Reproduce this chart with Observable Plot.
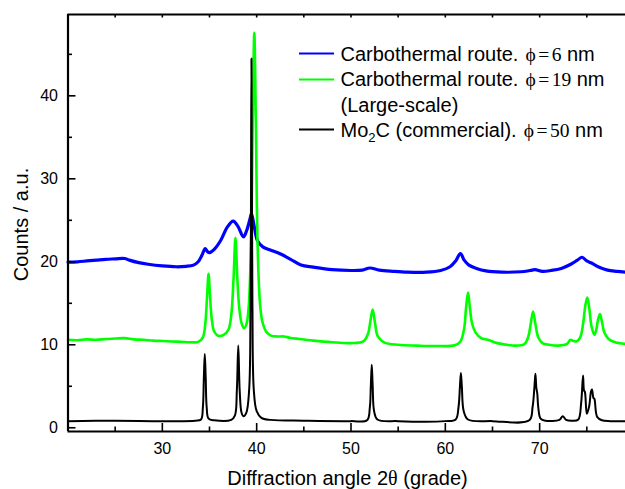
<!DOCTYPE html>
<html><head><meta charset="utf-8">
<script src="https://cdn.jsdelivr.net/npm/d3@7"></script>
<script src="https://cdn.jsdelivr.net/npm/@observablehq/plot@0.6"></script>
<style>body{margin:0;background:#fff;} svg{display:block}</style>
</head><body><div id="chart"></div>
<script>
const xDomain = [20, 79.1];
const yDomain = [-0.45, 49.8];
const xMajorTicks = [30, 40, 50, 60, 70];
const xMinorTicks = [25, 35, 45, 55, 65, 75];
const yMajorTicks = [0, 10, 20, 30, 40];
const yMinorTicks = [5, 15, 25, 35, 45];
const xLabel = ["Diffraction angle 2", "θ", " (grade)"];
const yLabel = "Counts / a.u.";

// Carbothermal route, phi = 6 nm
const blue6nm = [[20,19.95],[21,20.0],[22,20.1],[23,20.2],[24,20.3],[25,20.35],[26,20.4],[26.5,20.2],[27.5,19.9],[28.5,19.7],[30,19.5],[31.5,19.4],[32.5,19.45],[33.3,19.6],[33.8,20.0],[34.2,20.8],[34.55,21.6],[34.8,21.2],[35.0,21.1],[35.5,21.5],[36.2,22.6],[36.9,24.2],[37.5,24.9],[38.0,24.3],[38.6,23.0],[38.95,23.8],[39.3,25.2],[39.45,25.8],[39.75,24.2],[40.1,22.5],[40.65,21.8],[41.5,21.4],[42.6,20.9],[43.6,20.3],[44.7,19.6],[46,19.35],[48,19.05],[50,18.95],[51.2,19.0],[52.0,19.25],[53,19.0],[54.5,18.85],[56,18.75],[58,18.75],[59.5,18.95],[60.5,19.4],[61.1,20.1],[61.6,21.0],[62.0,20.2],[62.5,19.6],[63.3,19.2],[64.3,18.9],[66,18.75],[68,18.8],[69.0,18.95],[69.5,19.05],[70.3,18.85],[71.2,18.95],[72.3,19.2],[73.3,19.7],[74.0,20.2],[74.5,20.55],[75.0,20.1],[75.5,19.85],[76.2,19.4],[77.2,19.0],[78.2,18.85],[79.1,18.75]];

// Carbothermal route, phi = 19 nm (large-scale)
const green19nm = [[20,10.6],[21,10.55],[22,10.65],[23,10.6],[24,10.7],[25,10.75],[26,10.8],[27,10.65],[28,10.6],[29,10.5],[30,10.45],[31,10.4],[32,10.35],[33,10.3],[33.8,10.35],[34.3,10.9],[34.55,12.5],[34.75,16],[34.9,18.55],[35.05,16],[35.25,13],[35.5,11.6],[35.9,11.1],[36.5,11.2],[37.0,11.8],[37.3,13.5],[37.55,18],[37.75,22.9],[37.95,18],[38.15,14.5],[38.4,12.6],[38.65,12.0],[38.9,12.4],[39.15,14.5],[39.4,22],[39.6,38],[39.75,47.6],[39.9,38],[40.1,22],[40.35,15],[40.6,12.8],[41.0,11.6],[41.5,11.1],[42.2,11.0],[42.9,11.0],[43.5,10.85],[44.5,10.7],[46,10.5],[48,10.3],[50,10.2],[51.3,10.4],[51.8,11.3],[52.05,12.8],[52.3,14.25],[52.55,12.6],[52.85,11.0],[53.5,10.3],[55,10.0],[57,9.9],[59,9.85],[61,9.95],[61.6,10.4],[62.0,12],[62.2,14.5],[62.4,16.3],[62.6,14.5],[62.85,12.5],[63.2,11.5],[63.8,10.8],[64.5,10.6],[65.5,10.2],[66.5,10.0],[67.5,9.9],[68.4,10.1],[68.8,11],[69.05,12.5],[69.3,14.0],[69.55,12.5],[69.85,10.9],[70.3,10.2],[71,10.0],[72,9.9],[72.9,10.1],[73.25,10.6],[73.5,10.5],[73.9,10.4],[74.3,10.9],[74.6,12.5],[74.85,14.8],[75.05,15.7],[75.25,14.5],[75.5,12.2],[75.8,11.2],[76.0,11.8],[76.2,13.1],[76.4,13.7],[76.6,12.8],[76.85,11.5],[77.3,10.7],[78,10.3],[79.1,10.1]];

// Mo2C (commercial), phi = 50 nm
const black50nm = [[20,0.8],[25,0.85],[30,0.8],[33.5,0.85],[34.1,1.0],[34.3,2.5],[34.4,6.0],[34.5,8.9],[34.6,6.0],[34.7,2.5],[34.9,1.1],[35.5,0.9],[37.3,0.95],[37.7,1.5],[37.9,4.5],[38.05,9.9],[38.2,4.5],[38.4,1.8],[38.6,1.4],[38.9,1.8],[39.2,4.5],[39.35,15],[39.45,44.5],[39.55,15],[39.7,4.5],[40.0,2.0],[40.5,1.2],[41.5,0.95],[45,0.85],[50,0.8],[51.7,0.9],[52.0,2.5],[52.1,5],[52.2,7.6],[52.3,5],[52.45,2],[52.8,1.0],[55,0.8],[60,0.8],[61.1,1.0],[61.4,2.5],[61.55,5],[61.65,6.6],[61.75,5],[61.95,2],[62.4,1.0],[65,0.8],[68.9,0.9],[69.25,2.5],[69.45,5],[69.55,6.5],[69.65,4.8],[69.75,4.1],[69.85,2.5],[70.1,1.1],[70.6,0.85],[72.1,0.95],[72.45,1.4],[72.8,0.95],[73.5,0.85],[74.1,1.0],[74.4,3],[74.6,6.3],[74.7,4.5],[74.8,4.3],[75.0,1.7],[75.25,2.6],[75.45,4.4],[75.55,4.6],[75.7,3.6],[75.8,3.5],[76.1,1.3],[76.6,0.9],[77.5,0.8],[79.1,0.8]];

const legendColors = ["#0000ff", "#00ff00", "#000000"];
const legendSizes = ["6", "19", "50"];

const sans = "Liberation Sans, Arial, sans-serif";
const serif = "Liberation Serif, Times New Roman, serif";

const W = 625, H = 489, ML = 67.5, MR = 0, MT = 14, MB = 58;
const frameW = W - ML - MR, frameH = H - MT - MB;

const plot = Plot.plot({
  width: W,
  height: H,
  marginLeft: ML,
  marginRight: MR,
  marginTop: MT,
  marginBottom: MB,
  style: {fontFamily: sans, fontSize: "16px", color: "#000", background: "#fff"},
  x: {domain: xDomain},
  y: {domain: yDomain},
  marks: [
    Plot.line(blue6nm, {x: d => d[0], y: d => d[1], stroke: legendColors[0], strokeWidth: 3.2, curve: "catmull-rom"}),
    Plot.line(green19nm, {x: d => d[0], y: d => d[1], stroke: legendColors[1], strokeWidth: 2.6, curve: "catmull-rom"}),
    Plot.line(black50nm, {x: d => d[0], y: d => d[1], stroke: legendColors[2], strokeWidth: 2, curve: "catmull-rom"}),
    Plot.axisX(xMajorTicks, {anchor: "bottom", tickSize: 0, tickPadding: 11, label: null, fontSize: 16}),
    Plot.axisY(yMajorTicks, {anchor: "left", tickSize: 0, tickPadding: 10, label: null, fontSize: 16}),
    // inward ticks
    Plot.ruleX(xMajorTicks, {stroke: "#000", strokeWidth: 1.6, insetTop: frameH - 8}),
    Plot.ruleX(xMinorTicks, {stroke: "#000", strokeWidth: 1.6, insetTop: frameH - 4.5}),
    Plot.ruleX(xMajorTicks.concat(xMinorTicks), {stroke: "#000", strokeWidth: 1.6, insetBottom: frameH - 3.5}),
    Plot.ruleY(yMajorTicks, {stroke: "#000", strokeWidth: 1.6, insetRight: frameW - 8}),
    Plot.ruleY(yMinorTicks, {stroke: "#000", strokeWidth: 1.6, insetRight: frameW - 4.5}),
    // frame (left, bottom, top)
    Plot.ruleX([xDomain[0]], {stroke: "#000", strokeWidth: 2.2}),
    Plot.ruleY([yDomain[0]], {stroke: "#000", strokeWidth: 2.2}),
    Plot.ruleY([yDomain[1]], {stroke: "#000", strokeWidth: 2.2})
  ]
});

document.getElementById("chart").appendChild(plot);

const svg = d3.select(plot);
// x axis title
const xt = svg.append("text")
  .attr("x", 347.5).attr("y", 485).attr("text-anchor", "middle")
  .attr("font-family", sans).attr("font-size", 20).attr("fill", "#000");
xt.append("tspan").text(xLabel[0]);
xt.append("tspan").attr("font-family", serif).attr("font-size", 20).text(xLabel[1]);
xt.append("tspan").text(xLabel[2]);
// y axis title
svg.append("text")
  .attr("transform", "translate(27.5,224.5) rotate(-90)").attr("text-anchor", "middle")
  .attr("font-family", sans).attr("font-size", 20).attr("fill", "#000")
  .text(yLabel);

// legend
const legendRows = [
  {color: legendColors[0], lineY: 53.5, textY: 60.5, pre: [["Carbothermal route. "]], size: legendSizes[0]},
  {color: legendColors[1], lineY: 79.5, textY: 86, pre: [["Carbothermal route. "]], size: legendSizes[1]},
  {color: null, lineY: null, textY: 111.5, pre: [["(Large-scale)"]], size: null},
  {color: legendColors[2], lineY: 129.5, textY: 136.7, pre: [["Mo"], ["2", "sub"], ["C (commercial). ", "up"]], size: legendSizes[2]}
];
const lg = svg.append("g").attr("text-anchor", "start");
for (const r of legendRows) {
  if (r.color) {
    lg.append("line").attr("x1", 299).attr("x2", 334).attr("y1", r.lineY).attr("y2", r.lineY)
      .attr("stroke", r.color).attr("stroke-width", 2);
  }
  const t = lg.append("text").attr("x", 340.5).attr("y", r.textY).attr("text-anchor", "start")
    .attr("font-family", sans).attr("font-size", 20).attr("fill", "#000");
  for (const [s, kind] of r.pre) {
    const sp = t.append("tspan").text(s);
    if (kind === "sub") sp.attr("font-size", 13).attr("dy", 5);
    if (kind === "up") sp.attr("dy", -5);
  }
  if (r.size) {
    t.append("tspan").attr("font-family", serif).attr("font-size", 19.5).attr("dx", 1.5).text("ϕ");
    t.append("tspan").attr("font-family", serif).attr("font-size", 19.5).attr("dx", 2.5).text("=");
    t.append("tspan").attr("font-family", serif).attr("font-size", 19.5).attr("dx", 2.5).text(r.size);
    t.append("tspan").attr("dx", 0).text(" nm");
  }
}
</script>
</body></html>
